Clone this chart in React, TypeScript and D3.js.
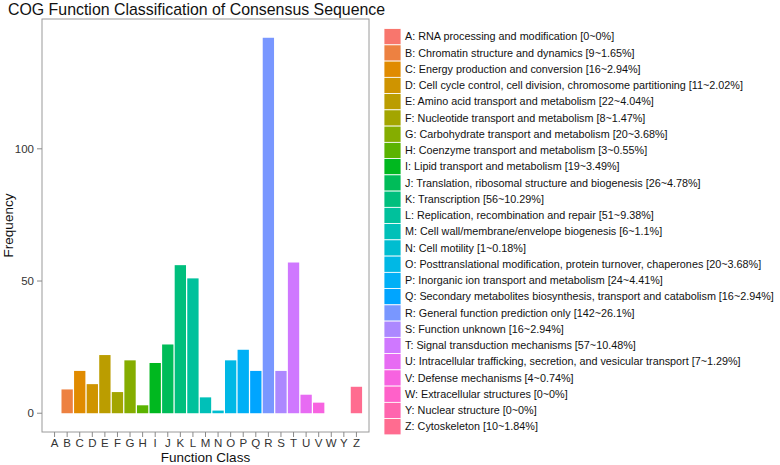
import React from 'react';
import * as d3 from 'd3';

// chart data
const classes = ['A', 'B', 'C', 'D', 'E', 'F', 'G', 'H', 'I', 'J', 'K', 'L', 'M', 'N', 'O', 'P', 'Q', 'R', 'S', 'T', 'U', 'V', 'W', 'Y', 'Z'];
const counts = [0, 9, 16, 11, 22, 8, 20, 3, 19, 26, 56, 51, 6, 1, 20, 24, 16, 142, 16, 57, 7, 4, 0, 0, 10];
const percents = ['0', '1.65', '2.94', '2.02', '4.04', '1.47', '3.68', '0.55', '3.49', '4.78', '10.29', '9.38', '1.1', '0.18', '3.68', '4.41', '2.94', '26.1', '2.94', '10.48', '1.29', '0.74', '0', '0', '1.84'];
const descriptions = [
    'RNA processing and modification',
    'Chromatin structure and dynamics',
    'Energy production and conversion',
    'Cell cycle control, cell division, chromosome partitioning',
    'Amino acid transport and metabolism',
    'Nucleotide transport and metabolism',
    'Carbohydrate transport and metabolism',
    'Coenzyme transport and metabolism',
    'Lipid transport and metabolism',
    'Translation, ribosomal structure and biogenesis',
    'Transcription',
    'Replication, recombination and repair',
    'Cell wall/membrane/envelope biogenesis',
    'Cell motility',
    'Posttranslational modification, protein turnover, chaperones',
    'Inorganic ion transport and metabolism',
    'Secondary metabolites biosynthesis, transport and catabolism',
    'General function prediction only',
    'Function unknown',
    'Signal transduction mechanisms',
    'Intracellular trafficking, secretion, and vesicular transport',
    'Defense mechanisms',
    'Extracellular structures',
    'Nuclear structure',
    'Cytoskeleton'
];
const yTicks = [0, 50, 100];

const font = '"Liberation Sans", Arial, sans-serif';

// R style hcl (polarLUV) -> hex, used for the ggplot hue palette
function polarLuvToHex(l: number, c: number, h: number) {
    const hr = h * Math.PI / 180;
    const u = c * Math.cos(hr), v = c * Math.sin(hr);
    const Xn = 95.047, Yn = 100, Zn = 108.883;
    const Y = l > 8 ? Yn * Math.pow((l + 16) / 116, 3) : Yn * l / 903.3;
    const den = Xn + 15 * Yn + 3 * Zn;
    const un = 4 * Xn / den, vn = 9 * Yn / den;
    const up = u / (13 * l) + un, vp = v / (13 * l) + vn;
    const X = 9 * Y * up / (4 * vp);
    const Z = -X / 3 - 5 * Y + 3 * Y / vp;
    const x = X / 100, y = Y / 100, z = Z / 100;
    const lin = [
        3.240479 * x - 1.537150 * y - 0.498535 * z,
        -0.969256 * x + 1.875992 * y + 0.041556 * z,
        0.055648 * x - 0.204043 * y + 1.057311 * z
    ];
    const g = lin.map(t => {
        const s = t > 0.00304 ? 1.055 * Math.pow(t, 1 / 2.4) - 0.055 : 12.92 * t;
        return Math.round(Math.max(0, Math.min(1, s)) * 255);
    });
    return d3.rgb(g[0], g[1], g[2]).formatHex();
}

const colors = classes.map((_, i) => polarLuvToHex(65, 100, 15 + 360 * i / classes.length));

const App = () => {
    const width = 780, height = 465;
    const panel = {left: 42, right: 369, top: 19, bottom: 432};

    const x = d3.scaleBand()
        .domain(classes)
        .range([panel.left, panel.right])
        .paddingInner(0.1)
        .paddingOuter(0.55);
    const y = d3.scaleLinear()
        .domain([-7.1, 149.1])
        .range([panel.bottom, panel.top]);

    const legendX = 384, legendTop = 28.6, rowH = 16.25;

    return (
        <svg width={width} height={height} style={{position: 'absolute', left: 0, top: 0, fontFamily: font}}>
            <rect width={width} height={height} fill="white"/>
            <text x={8} y={14.5} fontSize={15.9} fill="#111">COG Function Classification of Consensus Sequence</text>

            {/* bars */}
            {classes.map((c, i) => (
                <rect key={c} x={x(c)} y={y(counts[i])} width={x.bandwidth()}
                      height={y(0) - y(counts[i])} fill={colors[i]}/>
            ))}

            <rect x={panel.left} y={panel.top} width={panel.right - panel.left} height={panel.bottom - panel.top}
                  fill="none" stroke="#9a9a9a" strokeWidth={1}/>

            {/* y axis */}
            {yTicks.map(t => (
                <g key={t}>
                    <line x1={panel.left - 5} x2={panel.left} y1={y(t)} y2={y(t)} stroke="#8a8a8a"/>
                    <text x={panel.left - 8} y={y(t)} dy="0.35em" textAnchor="end" fontSize={11.5} fill="#333">{t}</text>
                </g>
            ))}
            <text transform={`translate(13,${(panel.top + panel.bottom) / 2}) rotate(-90)`} textAnchor="middle"
                  fontSize={13.5} fill="#111">Frequency</text>

            {/* x axis */}
            {classes.map(c => {
                const cx = (x(c) as number) + x.bandwidth() / 2;
                return (
                    <g key={c}>
                        <line x1={cx} x2={cx} y1={panel.bottom} y2={panel.bottom + 5} stroke="#8a8a8a"/>
                        <text x={cx} y={447} textAnchor="middle" fontSize={11.5} fill="#333">{c}</text>
                    </g>
                );
            })}
            <text x={(panel.left + panel.right) / 2} y={462} textAnchor="middle" fontSize={13.5} fill="#111">Function Class</text>

            {/* legend */}
            {classes.map((c, i) => (
                <g key={c} transform={`translate(${legendX},${legendTop + i * rowH})`}>
                    <rect width={17} height={rowH} fill={colors[i]} stroke="white" strokeWidth={0.8}/>
                    <text x={21} y={rowH / 2} dy="0.35em" fontSize={10.8} fill="#111">
                        {`${c}: ${descriptions[i]} [${counts[i]}~${percents[i]}%]`}
                    </text>
                </g>
            ))}
        </svg>
    );
};

export default App;
